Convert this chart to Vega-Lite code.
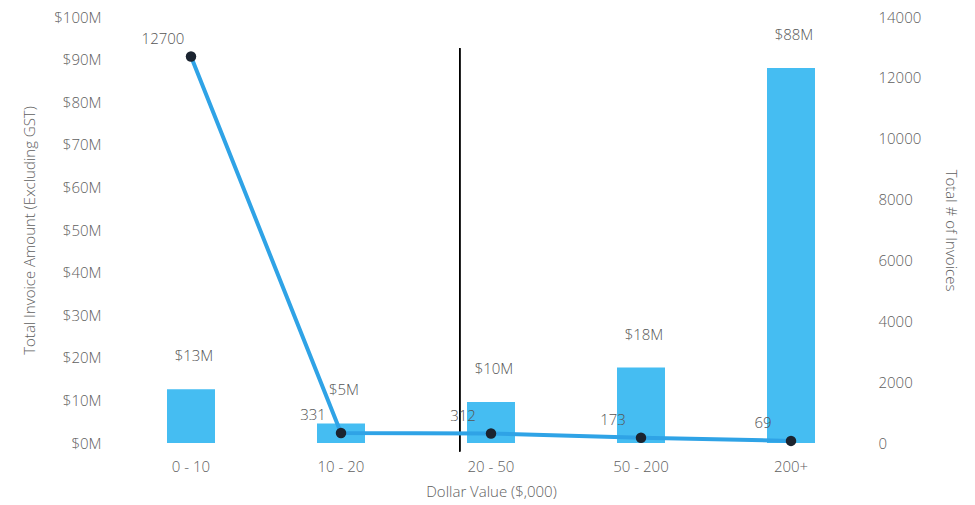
{
  "$schema": "https://vega.github.io/schema/vega-lite/v6.json",
  "width": 750,
  "height": 426,
  "autosize": {"type": "none"},
  "padding": {"left": 116, "top": 17, "right": 109, "bottom": 62},
  "background": "white",
  "config": {
    "view": {"stroke": null},
    "font": "Open Sans",
    "axis": {
      "domain": false, "ticks": false, "grid": false,
      "labelFont": "Open Sans", "labelFontSize": 15, "labelColor": "#606060", "labelFontWeight": 300,
      "titleFont": "Open Sans", "titleFontSize": 15, "titleColor": "#606060", "titleFontWeight": 300
    }
  },
  "data": {
    "values": [
      {"range": "0 - 10", "amount": 12.6, "count": 12700},
      {"range": "10 - 20", "amount": 4.6, "count": 331},
      {"range": "20 - 50", "amount": 9.6, "count": 312},
      {"range": "50 - 200", "amount": 17.7, "count": 173},
      {"range": "200+", "amount": 88, "count": 69}
    ]
  },
  "encoding": {
    "x": {
      "field": "range", "type": "nominal", "sort": null,
      "scale": {"paddingInner": 0.68, "paddingOuter": 0.34},
      "axis": {"title": "Dollar Value ($,000)", "labelAngle": 0, "labelPadding": 16, "titlePadding": 10}
    }
  },
  "layer": [
    {
      "layer": [
        {
          "mark": {"type": "bar", "color": "#45BDF2"},
          "encoding": {
            "y": {
              "field": "amount", "type": "quantitative",
              "scale": {"domain": [0, 100], "nice": false},
              "axis": {
                "title": "Total Invoice Amount (Excluding GST)",
                "values": [0, 10, 20, 30, 40, 50, 60, 70, 80, 90, 100],
                "labelExpr": "'$' + datum.value + 'M'",
                "labelPadding": 15, "titlePadding": 16
              }
            }
          }
        },
        {
          "transform": [{"calculate": "'$' + format(datum.amount, '.0f') + 'M'", "as": "label"}],
          "mark": {"type": "text", "dy": -33, "dx": 3, "fontSize": 15, "color": "#555555", "fontWeight": 300},
          "encoding": {
            "y": {"field": "amount", "type": "quantitative"},
            "text": {"field": "label", "type": "nominal"}
          }
        },
        {
          "mark": {"type": "rule", "color": "#000000", "strokeWidth": 1},
          "encoding": {
            "x": {"datum": "20 - 50", "bandPosition": -0.15},
            "y": {"datum": 92.7},
            "y2": {"datum": -2}
          }
        }
      ]
    },
    {
      "layer": [
        {
          "mark": {"type": "line", "color": "#2FA3E6", "strokeWidth": 4},
          "encoding": {
            "y": {
              "field": "count", "type": "quantitative",
              "scale": {"domain": [0, 14000], "nice": false},
              "axis": {
                "title": "Total # of Invoices", "orient": "right",
                "values": [0, 2000, 4000, 6000, 8000, 10000, 12000, 14000],
                "format": "d", "labelPadding": 12, "titlePadding": 22
              }
            }
          }
        },
        {
          "mark": {"type": "point", "filled": true, "color": "#1B2430", "size": 110, "opacity": 1},
          "encoding": {"y": {"field": "count", "type": "quantitative"}}
        },
        {
          "mark": {"type": "text", "dx": -28, "dy": -18, "fontSize": 15, "color": "#555555", "fontWeight": 300},
          "encoding": {
            "y": {"field": "count", "type": "quantitative"},
            "text": {"field": "count", "type": "quantitative", "format": "d"}
          }
        }
      ]
    }
  ],
  "resolve": {"scale": {"y": "independent"}}
}
